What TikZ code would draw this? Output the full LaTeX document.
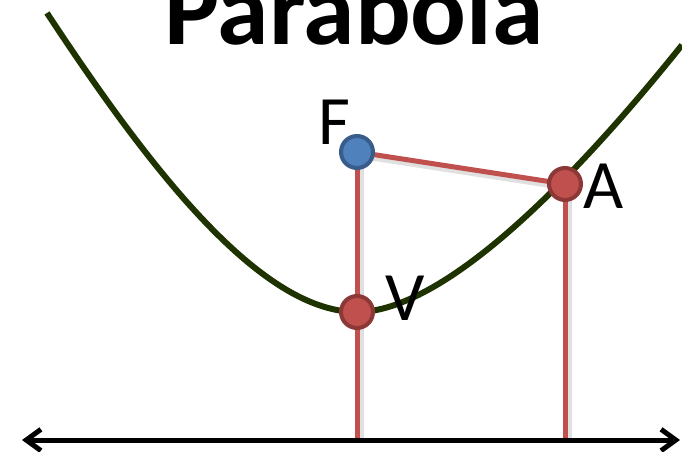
\documentclass[tikz,border=0pt]{standalone}
\usepackage{fontspec}
\setmainfont{Carlito}
\usepackage{xcolor}
\usepackage{tikz}
\usetikzlibrary{arrows.meta, backgrounds}
\definecolor{curvegreen}{HTML}{1E3300}
\definecolor{ptred}{HTML}{C0504D}
\definecolor{ptreddark}{HTML}{8C3836}
\definecolor{ptblue}{HTML}{4F81BD}
\definecolor{ptbluedark}{HTML}{385D8A}

\begin{document}
\begin{tikzpicture}[
    x=0.75pt, y=-0.75pt,
    font=\fontsize{52}{60}\selectfont,
    redpt/.style={circle, draw=ptreddark, fill=ptred, line width=3pt,
                  minimum size=24pt, inner sep=0pt},
    bluept/.style={circle, draw=ptbluedark, fill=ptblue, line width=3pt,
                   minimum size=24pt, inner sep=0pt},
    redline/.style={draw=ptred, line width=3.75pt,
                    preaction={draw=black, opacity=0.12, line width=6pt,
                               transform canvas={shift={(2pt,-2pt)}}}},
    curve/.style={draw=curvegreen, line width=4.5pt},
    axis/.style={{Straight Barb[length=11pt, width=16pt]}-{Straight Barb[length=11pt, width=16pt]},
                 line width=3.75pt, draw=black}
  ]
    \useasboundingbox (0,0) rectangle (682,452);

    \node[font=\fontsize{78}{90}\selectfont\bfseries, anchor=base] (title) at (354,45) {Parabola};

    \node[bluept] (F) at (357,152) {};
    \node[redpt]  (V) at (357,312) {};
    \node[redpt]  (A) at (565,184) {};

    \node (flabel) at (334,122) {F};
    \node (vlabel) at (405,298) {V};
    \node (alabel) at (604,186) {A};

    \coordinate (cl) at (47,13);
    \coordinate (cr) at (682,45);
    \coordinate (axl) at (22,440);
    \coordinate (axr) at (680,440);

    \begin{pgfonlayer}{background}
      \draw[curve] (cl) .. controls (149,168) and (260,312) .. (V.center)
                        .. controls (417,312) and (519,248) .. (cr);
      \draw[redline] (F.center) -- (A.center);
      \draw[redline] (F.center) -- (F.center |- axl);
      \draw[redline] (A.center) -- (A.center |- axl);
      \draw[axis] (axl) -- (axr);
    \end{pgfonlayer}
\end{tikzpicture}
\end{document}
